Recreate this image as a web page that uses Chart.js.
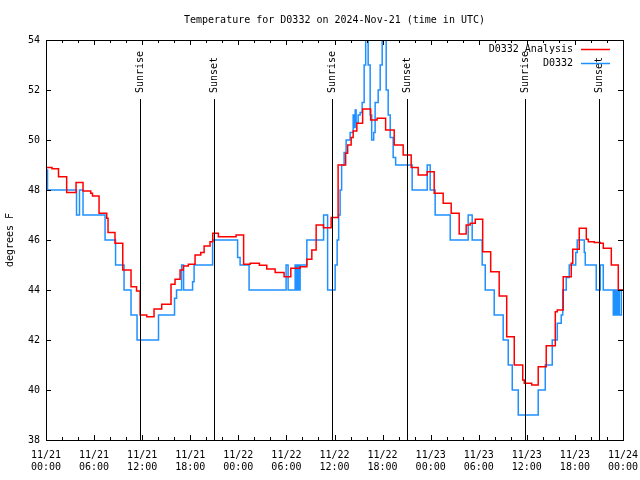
<!DOCTYPE html>
<html>
<head>
<meta charset="utf-8">
<title>D0332 temperature</title>
<script src="https://cdn.jsdelivr.net/npm/chart.js@4/dist/chart.umd.min.js"></script>
<style>
    html, body { margin: 0; padding: 0; background: #fff; }
</style>
</head>
<body>
<canvas id="chart-area" width="640" height="480"></canvas>
<script>
// hours since 11/21 00:00 UTC (deg F)
var analysisHours = [0, 0.75, 1.56, 2.58, 3.75, 4.62, 5.58, 5.8, 6.62, 7.58, 7.74, 8.61, 9.58, 10.61, 11.3,
    11.74, 12.57, 13.48, 14.44, 15.6, 16.1, 16.73, 17.14, 17.76, 18.6, 19.31, 19.73, 20.47, 20.81, 21.51,
    23.72, 24.66, 25.47, 26.63, 27.55, 28.59, 29.71, 30.55, 31.71, 32.55, 33.17, 33.71, 34.62, 35.58, 36.45,
    37.39, 37.64, 38.08, 38.33, 38.79, 39.51, 40.51, 41.32, 42.38, 43.45, 44.57, 45.57, 46.44, 47.57, 48.44,
    49.56, 50.56, 51.56, 52.43, 52.93, 53.56, 54.49, 55.49, 56.55, 57.49, 58.43, 59.49, 59.68, 60.61, 61.42,
    62.42, 63.55, 63.8, 64.54, 65.54, 65.73, 66.54, 67.42, 67.67, 68.41, 69.16, 69.54, 70.54, 71.41, 72];
var analysisTemps = [48.9, 48.85, 48.53, 47.9, 48.3, 47.96, 47.87, 47.76, 47.07, 46.87, 46.3, 45.87, 44.8, 44.13, 43.96,
    43.0, 42.93, 43.24, 43.43, 44.23, 44.43, 44.8, 44.96, 45.03, 45.4, 45.5, 45.76, 45.93, 46.27, 46.13,
    46.2, 45.03, 45.07, 44.99, 44.84, 44.7, 44.53, 44.87, 44.93, 45.23, 45.6, 46.6, 46.49, 46.9, 49.0,
    49.47, 49.8, 50.1, 50.36, 50.67, 51.24, 50.8, 50.87, 50.4, 49.8, 49.4, 48.9, 48.6, 48.73, 47.87,
    47.47, 47.07, 46.24, 46.6, 46.67, 46.83, 45.53, 44.73, 43.76, 42.13, 41.0, 40.4, 40.27, 40.2, 40.93,
    41.77, 43.13, 43.2, 44.53, 45.07, 45.63, 46.47, 46.03, 45.93, 45.9, 45.87, 45.67, 45.0, 44.0, 44.0];

var obsHours = [0, 0.19, 3.81, 4.18, 4.62, 7.37, 8.68, 9.74, 10.61, 11.36, 14.04, 16.04, 16.29, 16.92, 17.17,
    18.29, 18.48, 20.79, 23.91, 24.22, 25.34, 29.96, 30.21, 31.09, 31.27, 31.4, 31.59, 31.71, 32.55, 34.64,
    35.14, 36.08, 36.33, 36.52, 36.7, 36.89, 37.2, 37.45, 37.95, 38.33, 38.45, 38.58, 38.7, 38.95, 39.2,
    39.45, 39.7, 39.89, 40.2, 40.45, 40.64, 40.89, 41.07, 41.45, 41.7, 41.95, 42.45, 42.7, 42.95, 43.32,
    43.63, 45.69, 47.57, 47.94, 48.56, 50.44, 52.68, 53.18, 54.43, 54.81, 55.93, 57.05, 57.68, 58.18, 58.93,
    61.42, 62.3, 63.17, 63.8, 64.29, 64.48, 64.92, 65.29, 66.1, 66.29, 67.17, 67.29, 68.66, 69.16, 69.54,
    70.79, 70.97, 71.16, 71.35, 71.54, 71.79, 72];
var obsTemps = [48.8, 48, 47, 48, 47, 46, 45, 44, 43, 42, 43, 43.67, 44, 45, 44,
    44.33, 45, 46, 45.3, 45, 44, 45, 44, 45, 44, 45, 44, 45, 46, 47,
    44, 45, 46, 47, 48, 49, 49.5, 50, 50.3, 51, 50.5, 51.2, 50.7, 51, 51.1,
    51.5, 53, 55, 53, 51, 50, 50.3, 51.5, 52, 53, 55, 52, 51, 50.1, 49.3,
    49, 48, 49, 48, 47, 46, 47, 46, 45, 44, 43, 42, 41, 40, 39,
    40, 41, 42, 42.67, 43, 44, 44.5, 45, 45.5, 46, 45.5, 45, 44, 45, 44,
    43, 44, 43, 44, 43, 44, 44];

var eventHours = [11.75, 21, 35.75, 45, 59.75, 69];
var eventLabels = ['Sunrise', 'Sunset', 'Sunrise', 'Sunset', 'Sunrise', 'Sunset'];

var xTickLabels = [['11/21', '00:00'], ['11/21', '06:00'], ['11/21', '12:00'], ['11/21', '18:00'],
    ['11/22', '00:00'], ['11/22', '06:00'], ['11/22', '12:00'], ['11/22', '18:00'],
    ['11/23', '00:00'], ['11/23', '06:00'], ['11/23', '12:00'], ['11/23', '18:00'], ['11/24', '00:00']];

(function () {
    'use strict';

    var monoFont = "'DejaVu Sans Mono', 'Liberation Mono', monospace";
    Chart.defaults.font.family = monoFont;
    Chart.defaults.font.size = 10;
    Chart.defaults.color = '#000';

    function _points(hours, temps) {
        return hours.map(function (h, i) {
            return { x: h, y: temps[i] };
        });
    }

    // gnuplot-ish box with inward ticks, sunrise/sunset markers
    var frameLines = {
        id: 'frameLines',
        afterDatasetsDraw: function (chart) {
            var ctx = chart.ctx;
            var a = chart.chartArea;
            var xs = chart.scales.x;
            var ys = chart.scales.y;
            ctx.save();
            ctx.strokeStyle = '#000';
            ctx.lineWidth = 1;
            ctx.beginPath();
            ys.ticks.forEach(function (t) {
                var y = Math.round(ys.getPixelForValue(t.value)) + 0.5;
                ctx.moveTo(a.left, y); ctx.lineTo(a.left + 5, y);
                ctx.moveTo(a.right, y); ctx.lineTo(a.right - 5, y);
            });
            for (var h = 0; h <= 72; h += 2) {
                var x = Math.round(xs.getPixelForValue(h)) + 0.5;
                var len = (h % 6 === 0) ? 5 : 3;
                ctx.moveTo(x, a.bottom); ctx.lineTo(x, a.bottom - len);
                ctx.moveTo(x, a.top); ctx.lineTo(x, a.top + len);
            }
            eventHours.forEach(function (eh) {
                var ex = Math.round(xs.getPixelForValue(eh)) + 0.5;
                ctx.moveTo(ex, a.top + 59);
                ctx.lineTo(ex, a.bottom);
            });
            ctx.stroke();
            ctx.strokeRect(Math.round(a.left) + 0.5, Math.round(a.top) + 0.5,
                Math.round(a.right - a.left), Math.round(a.bottom - a.top));

            ctx.fillStyle = '#000';
            ctx.font = '10px ' + monoFont;
            ctx.textAlign = 'left';
            ctx.textBaseline = 'middle';
            eventHours.forEach(function (eh, i) {
                var ex = Math.round(xs.getPixelForValue(eh)) + 0.5;
                ctx.save();
                ctx.translate(ex, a.top + 53);
                ctx.rotate(-Math.PI / 2);
                ctx.fillText(eventLabels[i], 0, 0);
                ctx.restore();
            });

            // key, top right inside the box
            chart.data.datasets.forEach(function (ds, i) {
                var ky = Math.round(a.top + 9 + i * 13.5) + 0.5;
                ctx.textAlign = 'right';
                ctx.fillText(ds.label, a.right - 50, ky);
                ctx.beginPath();
                ctx.strokeStyle = ds.borderColor;
                ctx.lineWidth = 1.5;
                ctx.moveTo(a.right - 42, ky);
                ctx.lineTo(a.right - 13, ky);
                ctx.stroke();
            });
            ctx.restore();
        }
    };

    var ctx = document.getElementById('chart-area').getContext('2d');
    window.tempChart = new Chart(ctx, {
        type: 'line',
        data: {
            datasets: [
                {
                    label: 'D0332 Analysis',
                    data: _points(analysisHours, analysisTemps),
                    borderColor: '#ff0000',
                    borderWidth: 1.5,
                    stepped: true,
                    pointRadius: 0,
                    fill: false
                },
                {
                    label: 'D0332',
                    data: _points(obsHours, obsTemps),
                    borderColor: '#1e90ff',
                    borderWidth: 1.5,
                    stepped: true,
                    pointRadius: 0,
                    fill: false
                }
            ]
        },
        options: {
            responsive: false,
            animation: false,
            events: [],
            layout: { padding: { top: 0, right: 17, bottom: 0, left: 0 } },
            plugins: {
                legend: { display: false },
                tooltip: { enabled: false },
                title: {
                    display: true,
                    fullSize: false,
                    text: 'Temperature for D0332 on 2024-Nov-21 (time in UTC)',
                    font: { size: 10, weight: 'normal', lineHeight: 1.2 },
                    padding: { top: 14, bottom: 14 }
                }
            },
            scales: {
                x: {
                    type: 'linear',
                    min: 0,
                    max: 72,
                    grid: { display: false, drawTicks: false },
                    border: { display: false },
                    ticks: {
                        stepSize: 6,
                        autoSkip: false,
                        maxRotation: 0,
                        padding: 9,
                        font: { size: 10, lineHeight: 1.25 },
                        callback: function (v) {
                            return xTickLabels[Math.round(v / 6)];
                        }
                    },
                    afterFit: function (scale) {
                        scale.height = 40;
                        scale.paddingLeft = 0;
                        scale.paddingRight = 0;
                    }
                },
                y: {
                    min: 38,
                    max: 54,
                    grid: { display: false, drawTicks: false },
                    border: { display: false },
                    ticks: { stepSize: 2, padding: 6 },
                    title: {
                        display: true,
                        text: 'degrees F',
                        font: { size: 10, lineHeight: 1.2 },
                        padding: { top: 4, bottom: 0 }
                    },
                    afterFit: function (scale) {
                        scale.width = 46;
                        scale.paddingTop = 0;
                        scale.paddingBottom = 0;
                    }
                }
            }
        },
        plugins: [frameLines]
    });
})();
</script>
</body>
</html>
